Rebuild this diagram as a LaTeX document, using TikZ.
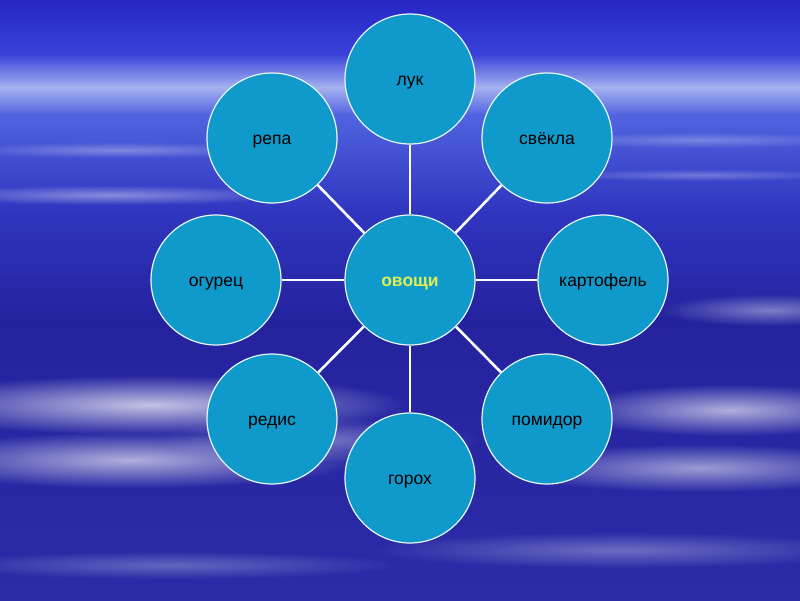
\documentclass[tikz,border=0pt]{standalone}
\usepackage{fontspec}
\setmainfont{Liberation Sans}
\usetikzlibrary{fadings}
\definecolor{skytop}{HTML}{2626C4}
\definecolor{skyhigh}{HTML}{3A42DA}
\definecolor{horizon}{HTML}{A6B2F0}
\definecolor{skymid}{HTML}{5064E0}
\definecolor{skylow}{HTML}{3036C0}
\definecolor{deepsea}{HTML}{25229E}
\definecolor{deepbot}{HTML}{2C2CA8}
\definecolor{circfill}{HTML}{109ACB}
\definecolor{hubtext}{HTML}{DDF050}
\tikzfading[name=softcloud, inner color=transparent!10, outer color=transparent!100]

\begin{document}
\begin{tikzpicture}[x=1pt, y=-1pt,
  leaf/.style={circle, draw=white!90!cyan, line width=1.2pt, fill=circfill,
    minimum size=130pt, inner sep=0pt, text height=15.8pt, text depth=3.7pt,
    font=\fontsize{17.5}{20}\selectfont, text=black},
  hub/.style={leaf, text=hubtext, font=\fontsize{17.5}{20}\selectfont\bfseries},
  link/.style={draw=white, line width=2.6pt},
  cloud/.style={white, path fading=softcloud}]
  \useasboundingbox (0,0) rectangle (800,600);

  % Sky
  \fill[top color=skytop, bottom color=skyhigh] (0,0) rectangle (800,55);
  \fill[top color=skyhigh, bottom color=horizon] (0,54) rectangle (800,88);
  \fill[top color=horizon, bottom color=skymid] (0,87) rectangle (800,115);
  \fill[top color=skymid, bottom color=skylow] (0,114) rectangle (800,210);
  \fill[top color=skylow, bottom color=deepsea] (0,209) rectangle (800,320);
  \fill[top color=deepsea, bottom color=deepbot] (0,319) rectangle (800,600);

  % Clouds
  \fill[cloud, opacity=0.35] (120,150) ellipse (160 and 8);
  \fill[cloud, opacity=0.45] (110,195) ellipse (190 and 10);
  \fill[cloud, opacity=0.3] (700,140) ellipse (160 and 8);
  \fill[cloud, opacity=0.3] (700,175) ellipse (150 and 6);
  \fill[cloud, opacity=0.8] (150,405) ellipse (260 and 30);
  \fill[cloud, opacity=0.7] (130,460) ellipse (230 and 28);
  \fill[cloud, opacity=0.4] (320,440) ellipse (160 and 22);
  \fill[cloud, opacity=0.45] (770,310) ellipse (110 and 16);
  \fill[cloud, opacity=0.7] (730,410) ellipse (170 and 26);
  \fill[cloud, opacity=0.6] (700,468) ellipse (200 and 24);
  \fill[cloud, opacity=0.35] (620,550) ellipse (250 and 18);
  \fill[cloud, opacity=0.3] (170,565) ellipse (230 and 14);

  % Nodes
  \node[hub] (veg) at (410,280) {овощи};
  \foreach \name/\x/\y/\txt in {luk/410/79/лук, svekla/547/138/свёкла,
      kartofel/603/280/картофель, pomidor/547/419/помидор,
      gorokh/410/478/горох, redis/272/419/редис,
      ogurets/216/280/огурец, repa/272/138/репа}{
    \node[leaf] (\name) at (\x,\y) {\txt};
    \draw[link] (veg) -- (\name);
  }
\end{tikzpicture}
\end{document}
